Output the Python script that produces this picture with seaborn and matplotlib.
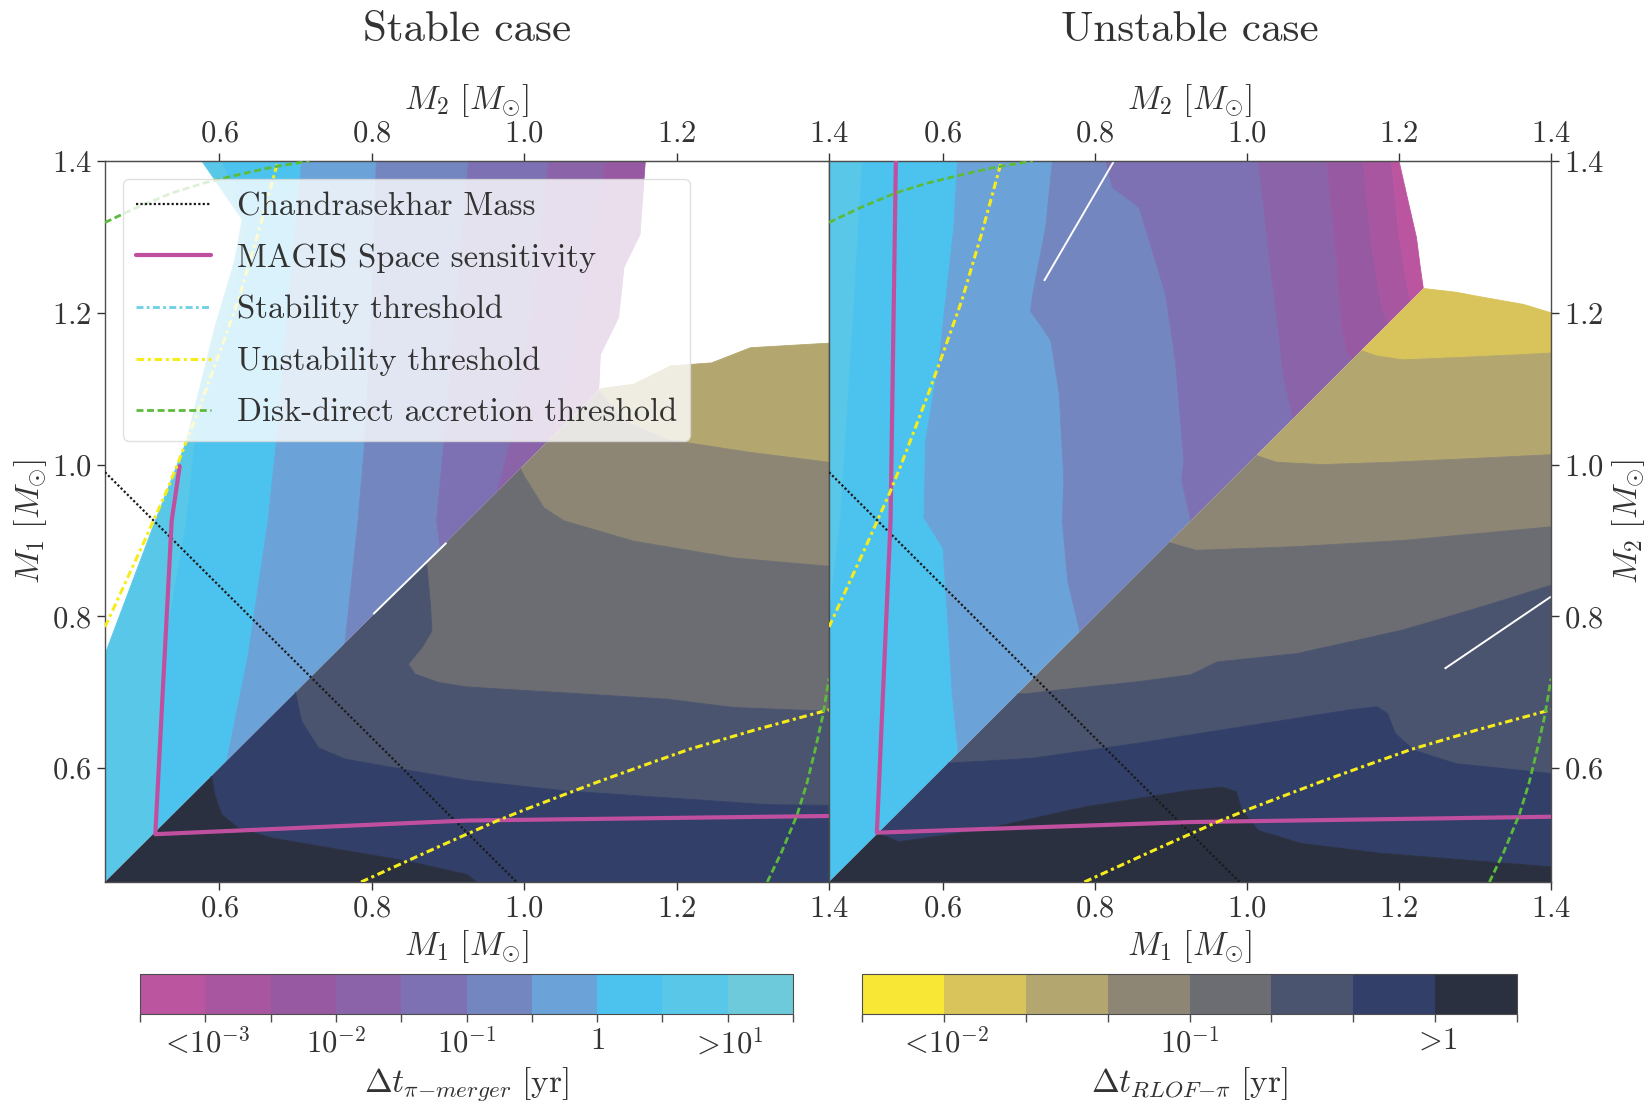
import numpy as np
import matplotlib
matplotlib.use("Agg")
import matplotlib.pyplot as plt
from matplotlib.colors import ListedColormap, BoundaryNorm
from matplotlib.cm import ScalarMappable
from matplotlib.lines import Line2D
from matplotlib.patches import Polygon
import seaborn as sns

# colour bins of the two colour bars, low -> high log10(dt / yr)
merger_colors = ["#BC55A0", "#A8569F", "#9859A3", "#8A63A9", "#7D70B3",
                 "#7386BF", "#6BA3D8", "#4BC3EE", "#59C8E8", "#6DCADB"]
merger_bounds = [-3.5, -3.0, -2.5, -2.0, -1.5, -1.0, -0.5, 0.0, 0.5, 1.0, 1.5]
merger_ticks = [-3.0, -2.0, -1.0, 0.0, 1.0]
merger_ticklabels = [r"$<\!10^{-3}$", r"$10^{-2}$", r"$10^{-1}$", r"$1$", r"$>\!10^{1}$"]

rlof_colors = ["#F8E735", "#D8C45B", "#B3A66F", "#8D8675",
               "#6B6D72", "#4B546E", "#323F69", "#2A303F"]
rlof_bounds = [-2.333, -2.0, -1.667, -1.333, -1.0, -0.667, -0.333, 0.0, 0.333]
rlof_ticks = [-2.0, -1.0, 0.0]
rlof_ticklabels = [r"$<\!10^{-2}$", r"$10^{-1}$", r"$>\!1$"]

# band edges, (x, y) polylines
# upper triangle: edges run bottom -> top, bands between consecutive edges
stable_upper_edges = [
    ([0.45, 0.45, 0.516, 0.557, 0.594, 0.62, 0.63, 0.577], [0.45, 0.75, 0.926, 1.031, 1.18, 1.268, 1.323, 1.4]),
    ([0.515, 0.515, 0.52, 0.527, 0.557, 0.568, 0.605, 0.628, 0.638, 0.603], [0.45, 0.515, 0.6, 0.75, 0.926, 1.031, 1.18, 1.268, 1.323, 1.4]),
    ([0.61, 0.61, 0.638, 0.664, 0.675, 0.69, 0.708], [0.45, 0.61, 0.75, 0.926, 1.031, 1.2, 1.4]),
    ([0.765, 0.765, 0.782, 0.791, 0.80, 0.806], [0.45, 0.765, 0.926, 1.031, 1.2, 1.4]),
    ([0.89, 0.89, 0.885, 0.895, 0.91, 0.927], [0.45, 0.89, 0.926, 1.031, 1.2, 1.4]),
    ([0.965, 0.965, 0.982, 1.01, 1.032], [0.45, 0.965, 1.031, 1.2, 1.4]),
    ([1.03, 1.03, 1.055, 1.075, 1.092, 1.107], [0.45, 1.03, 1.1, 1.2, 1.3, 1.4]),
    ([1.098, 1.098, 1.10, 1.124, 1.131, 1.152, 1.159], [0.45, 1.1, 1.145, 1.194, 1.26, 1.303, 1.4]),
]
stable_upper_bins = [8, 7, 6, 5, 4, 3, 2]

# lower triangle: edges run left -> right
stable_lower_edges = [
    ([0.45, 1.1, 1.144, 1.192, 1.246, 1.297, 1.4], [1.1, 1.1, 1.106, 1.13, 1.134, 1.154, 1.16]),
    ([0.45, 1.098, 1.131, 1.187, 1.297, 1.4], [1.097, 1.097, 1.058, 1.033, 1.016, 1.003]),
    ([0.45, 0.995, 1.0, 1.026, 1.052, 1.144, 1.275, 1.4], [0.995, 0.995, 0.985, 0.943, 0.926, 0.899, 0.877, 0.866]),
    ([0.45, 0.872, 0.877, 0.879, 0.866, 0.848, 0.857, 0.887, 0.925, 1.056, 1.187, 1.275, 1.4],
     [0.87, 0.87, 0.816, 0.781, 0.759, 0.737, 0.724, 0.713, 0.707, 0.699, 0.691, 0.68, 0.675]),
    ([0.45, 0.70, 0.708, 0.73, 0.765, 0.844, 0.925, 1.056, 1.187, 1.319, 1.4],
     [0.70, 0.70, 0.662, 0.627, 0.612, 0.598, 0.584, 0.57, 0.561, 0.552, 0.551]),
    ([0.45, 0.59, 0.594, 0.603, 0.625, 0.669, 0.756, 0.844, 0.925, 0.95, 1.4],
     [0.589, 0.589, 0.565, 0.539, 0.521, 0.508, 0.493, 0.478, 0.46, 0.44, 0.44]),
    ([0.45, 1.4], [0.44, 0.44]),
]
stable_lower_bins = [2, 3, 4, 5, 6, 7]

unstable_upper_edges = [
    ([0.44, 0.44], [0.45, 1.4]),
    ([0.45, 0.45, 0.465, 0.481, 0.494], [0.45, 0.8, 0.926, 1.18, 1.4]),
    ([0.62, 0.62, 0.612, 0.606, 0.60, 0.575, 0.577, 0.595, 0.614, 0.619], [0.45, 0.62, 0.70, 0.80, 0.89, 0.93, 1.03, 1.14, 1.31, 1.4]),
    ([0.78, 0.78, 0.764, 0.757, 0.759, 0.753, 0.742, 0.731, 0.715, 0.718, 0.735, 0.744],
     [0.45, 0.78, 0.848, 0.926, 0.98, 1.093, 1.163, 1.18, 1.202, 1.224, 1.312, 1.4]),
    ([0.926, 0.926, 0.914, 0.917, 0.906, 0.893, 0.873, 0.858, 0.823, 0.814],
     [0.45, 0.926, 0.98, 1.005, 1.136, 1.224, 1.29, 1.339, 1.365, 1.4]),
    ([1.061, 1.061, 1.048, 1.041, 1.030, 1.015], [0.45, 1.061, 1.115, 1.18, 1.268, 1.4]),
    ([1.14, 1.14, 1.133, 1.125, 1.118, 1.105], [0.45, 1.139, 1.145, 1.18, 1.268, 1.4]),
    ([1.185, 1.185, 1.177, 1.164, 1.153], [0.45, 1.187, 1.211, 1.29, 1.4]),
    ([1.215, 1.215, 1.208, 1.199, 1.19], [0.45, 1.215, 1.25, 1.312, 1.4]),
    ([1.232, 1.232, 1.228, 1.223, 1.212, 1.2], [0.45, 1.232, 1.26, 1.299, 1.347, 1.4]),
]
unstable_upper_bins = [8, 7, 6, 5, 4, 3, 2, 1, 0]

unstable_lower_edges = [
    ([0.45, 1.232, 1.276, 1.302, 1.364, 1.4], [1.232, 1.232, 1.227, 1.222, 1.211, 1.2]),
    ([0.45, 1.151, 1.171, 1.206, 1.276, 1.364, 1.4], [1.15, 1.15, 1.143, 1.138, 1.141, 1.145, 1.147]),
    ([0.45, 1.012, 1.039, 1.1, 1.188, 1.276, 1.4], [1.012, 1.012, 1.003, 1.0, 1.003, 1.007, 1.013]),
    ([0.45, 0.898, 0.933, 1.066, 1.205, 1.4], [0.897, 0.897, 0.887, 0.892, 0.90, 0.918]),
    ([0.45, 0.71, 0.752, 0.857, 0.926, 0.961, 1.066, 1.205, 1.31, 1.4],
     [0.698, 0.698, 0.703, 0.714, 0.723, 0.74, 0.751, 0.782, 0.813, 0.841]),
    ([0.45, 0.6125, 0.717, 0.857, 0.996, 1.136, 1.171, 1.185, 1.195, 1.219, 1.275, 1.4],
     [0.607, 0.607, 0.613, 0.633, 0.655, 0.677, 0.681, 0.672, 0.646, 0.624, 0.606, 0.593]),
    ([0.45, 0.513, 0.542, 0.647, 0.787, 0.926, 0.968, 0.986, 0.993, 1.015, 1.0705, 1.175, 1.4],
     [0.515, 0.515, 0.503, 0.518, 0.549, 0.571, 0.575, 0.569, 0.545, 0.518, 0.501, 0.488, 0.47]),
    ([0.45, 1.4], [0.44, 0.44]),
]
unstable_lower_bins = [1, 2, 3, 4, 5, 6, 7]

# threshold curves (upper branch; the lower branch is the mirror M1 <-> M2)
chandra_x = [0.45, 0.99]
chandra_y = [0.99, 0.45]
unstab_lo = [0.45, 0.466, 0.482, 0.498, 0.514, 0.53, 0.545, 0.563, 0.582, 0.603, 0.625, 0.651, 0.677]
unstab_hi = [0.786, 0.821, 0.856, 0.891, 0.927, 0.963, 1.0, 1.047, 1.097, 1.155, 1.217, 1.305, 1.4]
disk_lo = [0.45, 0.49, 0.538, 0.58, 0.625, 0.67, 0.718]
disk_hi = [1.319, 1.338, 1.358, 1.371, 1.382, 1.392, 1.4]
magis_stable_x = [0.548, 0.5375, 0.516, 0.925, 1.4]
magis_stable_y = [0.998, 0.926, 0.513, 0.531, 0.537]
magis_unstable_x = [0.538, 0.531, 0.513, 0.926, 1.4]
magis_unstable_y = [1.4, 0.926, 0.515, 0.529, 0.536]

# white gaps of the original grids
stable_gaps = [([0.802, 0.898], [0.803, 0.897])]
unstable_gaps = [([0.733, 0.825], [1.242, 1.4]), ([1.26, 1.4], [0.731, 0.826])]

mass_ticks = [0.6, 0.8, 1.0, 1.2, 1.4]
lo, hi = 0.45, 1.4

sns.set_style("ticks")
plt.rcParams["font.family"] = "serif"
plt.rcParams["font.serif"] = ["cmr10", "DejaVu Serif"]
plt.rcParams["mathtext.fontset"] = "cm"
plt.rcParams["axes.formatter.use_mathtext"] = True
plt.rcParams["axes.unicode_minus"] = False
plt.rcParams["text.color"] = "0.2"
plt.rcParams["axes.labelcolor"] = "0.2"
plt.rcParams["xtick.color"] = "0.2"
plt.rcParams["ytick.color"] = "0.2"

TICK = 22
LAB = 24

fig = plt.figure(figsize=(16.51, 11.04), dpi=100)
ax_l = fig.add_axes([105 / 1651, 1 - 882 / 1104, 724 / 1651, 721 / 1104])
ax_r = fig.add_axes([829 / 1651, 1 - 882 / 1104, 722 / 1651, 721 / 1104])


def draw_bands(ax, edges, bins, colors, upper):
    if upper:
        pts = [[lo, lo], [lo, hi], [hi, hi]]
    else:
        pts = [[lo, lo], [hi, lo], [hi, hi]]
    clip = Polygon(pts, closed=True, transform=ax.transData)
    for (xa, ya), (xb, yb), b in zip(edges[:-1], edges[1:], bins):
        px = np.concatenate([xa, xb[::-1]])
        py = np.concatenate([ya, yb[::-1]])
        p = ax.fill(px, py, color=colors[b], lw=0.6, zorder=1)[0]
        p.set_clip_path(clip)


dashdot = (0, (2.5, 1.2, 1, 1.2))
dashed = (0, (2.5, 1.3))

for ax, up, ub, dn, db, gaps, mx, my in [
        (ax_l, stable_upper_edges, stable_upper_bins, stable_lower_edges, stable_lower_bins,
         stable_gaps, magis_stable_x, magis_stable_y),
        (ax_r, unstable_upper_edges, unstable_upper_bins, unstable_lower_edges, unstable_lower_bins,
         unstable_gaps, magis_unstable_x, magis_unstable_y)]:
    draw_bands(ax, [(np.array(x), np.array(y)) for x, y in up], ub, merger_colors, True)
    draw_bands(ax, [(np.array(x), np.array(y)) for x, y in dn], db, rlof_colors, False)
    for gx, gy in gaps:
        ax.plot(gx, gy, color="white", lw=1.4, zorder=2, solid_capstyle="butt")

    ax.plot(chandra_x, chandra_y, color="0.1", ls=(0, (1, 1)), lw=1.6, zorder=3,
            label="Chandrasekhar Mass")
    ax.plot(mx, my, color="#C0509F", lw=3, zorder=3, label="MAGIS Space sensitivity")
    ax.plot(unstab_lo, unstab_hi, color="#F7EC1B", ls=dashdot, lw=2.2, zorder=3,
            label="Unstability threshold")
    ax.plot(unstab_hi, unstab_lo, color="#F7EC1B", ls=dashdot, lw=2.2, zorder=3)
    ax.plot(disk_lo, disk_hi, color="#5DBB3C", ls=dashed, lw=2, zorder=3,
            label="Disk-direct accretion threshold")
    ax.plot(disk_hi, disk_lo, color="#5DBB3C", ls=dashed, lw=2, zorder=3)

    ax.set_xlim(lo, hi)
    ax.set_ylim(lo, hi)
    ax.set_xticks(mass_ticks)
    ax.set_yticks(mass_ticks)
    ax.tick_params(labelsize=TICK, length=6, width=1, direction="out")
    for s in ax.spines.values():
        s.set_color("0.3")
        s.set_linewidth(1)
    ax.set_xlabel(r"$M_1\ [M_{\odot}]$", fontsize=LAB, labelpad=4)
    top = ax.secondary_xaxis("top")
    top.set_xticks(mass_ticks)
    top.tick_params(labelsize=TICK, length=6, width=1)
    top.spines["top"].set_color("0.3")
    top.set_xlabel(r"$M_2\ [M_{\odot}]$", fontsize=LAB, labelpad=8)

ax_l.set_ylabel(r"$M_1\ [M_{\odot}]$", fontsize=LAB, labelpad=2)
ax_r.yaxis.tick_right()
ax_r.yaxis.set_label_position("right")
ax_r.set_ylabel(r"$M_2\ [M_{\odot}]$", fontsize=LAB, labelpad=4)

# legend (stability threshold has no visible branch in this mass range)
h = ax_l.get_legend_handles_labels()
handles = h[0][:2] + [Line2D([], [], color="#6CCFE3", ls=dashdot, lw=2)] + h[0][2:]
labels = h[1][:2] + ["Stability threshold"] + h[1][2:]
ax_l.legend(handles, labels, loc="upper left", fontsize=23.5, framealpha=0.8,
            handlelength=2.3, edgecolor="0.85", borderaxespad=0.55, labelspacing=0.68)

fig.text(467 / 1651, 1 - 30 / 1104, "Stable case", fontsize=31, ha="center", va="center")
fig.text(1190 / 1651, 1 - 30 / 1104, "Unstable case", fontsize=31, ha="center", va="center")

# colour bars
for rect, colors, bounds, ticks, tlabels, label in [
        ([140 / 1651, 1 - 1014 / 1104, 653 / 1651, 40 / 1104], merger_colors, merger_bounds,
         merger_ticks, merger_ticklabels, r"$\Delta t_{\pi{-}merger}\ [\mathrm{yr}]$"),
        ([862 / 1651, 1 - 1014 / 1104, 655 / 1651, 40 / 1104], rlof_colors, rlof_bounds,
         rlof_ticks, rlof_ticklabels, r"$\Delta t_{RLOF{-}\pi}\ [\mathrm{yr}]$")]:
    cax = fig.add_axes(rect)
    cmap = ListedColormap(sns.color_palette(colors))
    sm = ScalarMappable(norm=BoundaryNorm(bounds, len(colors)), cmap=cmap)
    cb = fig.colorbar(sm, cax=cax, orientation="horizontal", ticks=bounds)
    lab_map = dict(zip(ticks, tlabels))
    cb.set_ticklabels([lab_map.get(b, "") for b in bounds])
    cb.ax.tick_params(labelsize=TICK, length=6, width=1, color="0.3")
    cb.outline.set_edgecolor("0.3")
    cb.set_label(label, fontsize=LAB, labelpad=4)

fig.savefig("out.png", dpi=100)
